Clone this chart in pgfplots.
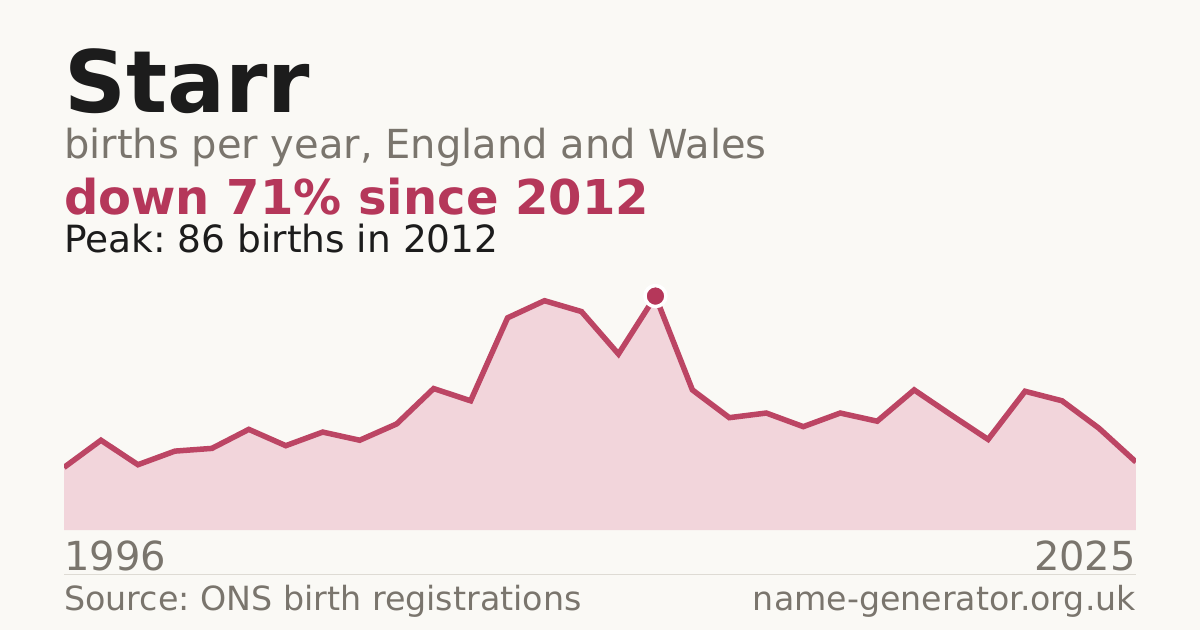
\documentclass[border=0pt]{standalone}
\usepackage{pgfplots}
\usepackage{pgfplotstable}
\usepackage{fontspec}
\pgfplotsset{compat=1.18}
\setmainfont{DejaVu Sans}
\frenchspacing

\definecolor{bgcol}{HTML}{FAF9F5}
\definecolor{ink}{HTML}{1C1C1C}
\definecolor{muted}{HTML}{7A756D}
\definecolor{accent}{HTML}{B5375A}
\definecolor{linecol}{HTML}{BC4564}
\definecolor{areacol}{HTML}{F2D5DB}
\definecolor{rulecol}{HTML}{DEDBD4}

% births per year
\pgfplotstableread{
year births
1996 23
1997 33
1998 24
1999 29
2000 30
2001 37
2002 31
2003 36
2004 33
2005 39
2006 52
2007 47.5
2008 78
2009 84.3
2010 80.3
2011 64.7
2012 86
2013 51.5
2014 41.3
2015 43
2016 38
2017 43
2018 40
2019 51.5
2020 42.3
2021 33.3
2022 51
2023 47.5
2024 37.4
2025 25
}\births

\begin{document}
\begin{tikzpicture}
\fill[bgcol] (0,0) rectangle (1200pt,630pt);

\node[anchor=base west,inner sep=0,text=ink] at (64pt,517pt)
  {\fontsize{86}{86}\selectfont\bfseries Starr};
\node[anchor=base west,inner sep=0,text=muted] at (64pt,471.5pt)
  {\fontsize{40}{40}\selectfont births per year, England and Wales};
\node[anchor=base west,inner sep=0,text=accent] at (64pt,415pt)
  {\fontsize{48}{48}\selectfont\bfseries down 71\% since 2012};
\node[anchor=base west,inner sep=0,text=ink] at (64pt,377.3pt)
  {\fontsize{37.5}{38}\selectfont Peak: 86 births in 2012};

\begin{axis}[
    at={(64pt,100pt)}, anchor=south west,
    scale only axis,
    width=1072pt, height=272pt,
    xmin=1996, xmax=2025,
    ymin=0, ymax=100,
    hide axis,
]
  \addplot[fill=areacol, draw=none] table[x=year,y=births] {\births} \closedcycle;
  \addplot[linecol, line width=5.5pt, mark=none] table[x=year,y=births] {\births};
  \addplot[mark=*, mark size=10.5pt, mark options={fill=accent, draw=white, line width=3.5pt}]
    coordinates {(2012,86)};
\end{axis}

\node[anchor=base west,inner sep=0,text=muted] at (64pt,60pt)
  {\fontsize{40}{40}\selectfont 1996};
\node[anchor=base east,inner sep=0,text=muted] at (1136pt,60pt)
  {\fontsize{40}{40}\selectfont 2025};
\draw[rulecol, line width=1pt] (64pt,56pt) -- (1136pt,56pt);
\node[anchor=base west,inner sep=0,text=muted] at (64pt,20pt)
  {\fontsize{33.3}{33}\selectfont Source: ONS birth registrations};
\node[anchor=base east,inner sep=0,text=muted] at (1136pt,20pt)
  {\fontsize{33.2}{33}\selectfont name-generator.org.uk};

\pgfresetboundingbox
\path (0,0) rectangle (1200pt,630pt);
\end{tikzpicture}
\end{document}
